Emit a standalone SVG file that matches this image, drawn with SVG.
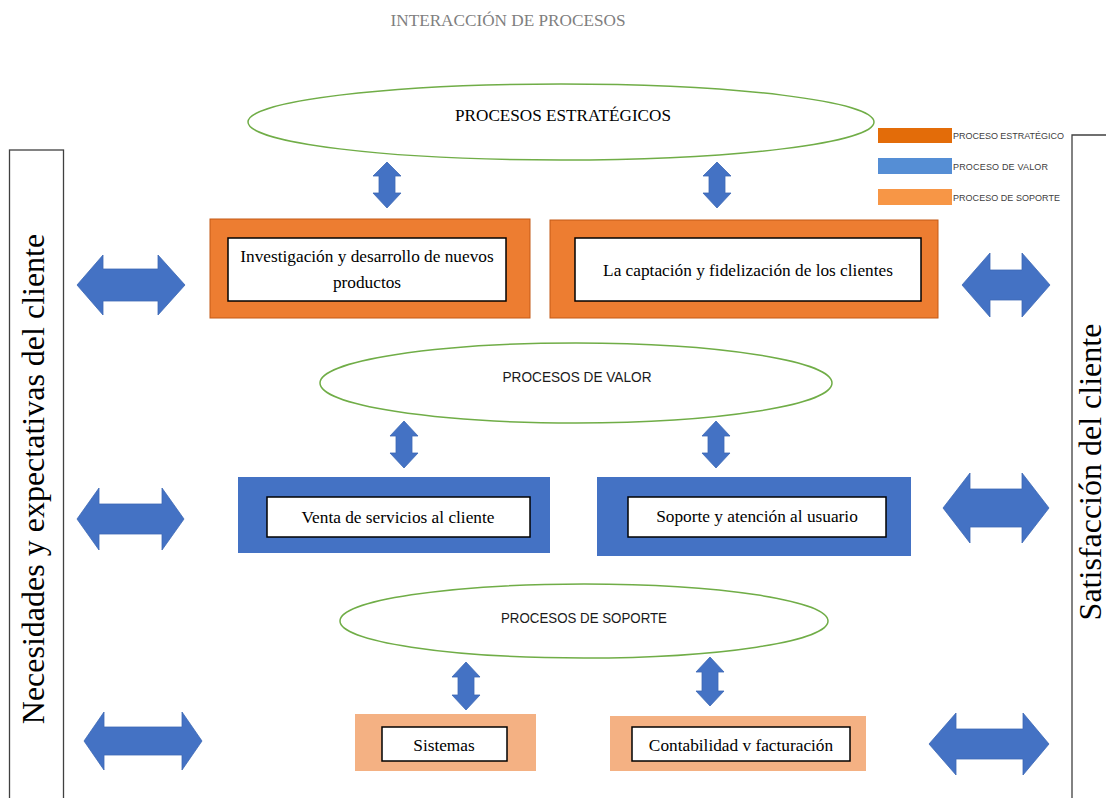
<svg xmlns="http://www.w3.org/2000/svg" width="1106" height="798" viewBox="0 0 1106 798">
<style>
.ell{fill:#fff;stroke:#70AD47;stroke-width:1.5}
.inner{fill:#fff;stroke:#000;stroke-width:1.5}
.est{fill:#ED7D31;stroke:#C45A16;stroke-width:1}
.val{fill:#4472C4}
.sop{fill:#F4B183}
.arr{fill:#4472C4;stroke:#3C68B5;stroke-width:0.8}
.serif{font-family:"Liberation Serif","Times New Roman",serif;fill:#000}
.sans{font-family:"Liberation Sans",Arial,sans-serif;fill:#1a1a1a}
.box{font-size:17.3px;text-anchor:middle}
.leg{font-size:9px;fill:#404040}
.side{font-size:32px;text-anchor:middle}
.panel{fill:none;stroke:#404040;stroke-width:1.3}
</style>
<rect width="1106" height="798" fill="#fff"/>
<text class="serif" x="508" y="26" font-size="16.5" text-anchor="middle" style="fill:#7f7f7f" textLength="235" lengthAdjust="spacingAndGlyphs">INTERACCIÓN DE PROCESOS</text>

<g id="panel-left">
<rect class="panel" x="9.5" y="150" width="54" height="660"/>
<text class="serif side" transform="translate(44,479) rotate(-90)">Necesidades y expectativas del cliente</text>
</g>
<g id="panel-right">
<path class="panel" d="M1120,135 H1072 V810"/>
<text class="serif side" transform="translate(1101,472) rotate(-90)">Satisfacción del cliente</text>
</g>

<g id="legend">
<rect x="878" y="128" width="74" height="15" fill="#E36C09"/>
<text class="sans leg" x="953" y="139" textLength="111">PROCESO ESTRATÉGICO</text>
<rect x="878" y="158" width="74" height="16" fill="#558ED5"/>
<text class="sans leg" x="953" y="169.5" textLength="95">PROCESO DE VALOR</text>
<rect x="878" y="189" width="74" height="16" fill="#F79646"/>
<text class="sans leg" x="953" y="201" textLength="107">PROCESO DE SOPORTE</text>
</g>

<g id="ell-estrategicos">
<ellipse class="ell" cx="561" cy="122" rx="313" ry="38"/>
<text class="serif" x="563" y="121" font-size="16.5" text-anchor="middle" textLength="216" lengthAdjust="spacingAndGlyphs">PROCESOS ESTRATÉGICOS</text>
</g>
<g id="ell-valor">
<ellipse class="ell" cx="576" cy="383" rx="256" ry="40"/>
<text class="sans" x="577" y="382" font-size="14.5" text-anchor="middle" textLength="149" lengthAdjust="spacingAndGlyphs">PROCESOS DE VALOR</text>
</g>
<g id="ell-soporte">
<ellipse class="ell" cx="584" cy="621" rx="244" ry="37"/>
<text class="sans" x="584" y="623" font-size="14.5" text-anchor="middle" textLength="166" lengthAdjust="spacingAndGlyphs">PROCESOS DE SOPORTE</text>
</g>

<g id="node-investigacion">
<rect class="est" x="210" y="219" width="320" height="99"/>
<rect class="inner" x="228" y="238" width="278" height="63"/>
<text class="serif box" x="367" y="262">Investigación y desarrollo de nuevos</text>
<text class="serif box" x="367" y="288">productos</text>
</g>
<g id="node-captacion">
<rect class="est" x="550" y="220" width="388" height="98"/>
<rect class="inner" x="575" y="238" width="346" height="63"/>
<text class="serif box" x="748" y="276">La captación y fidelización de los clientes</text>
</g>
<g id="node-venta">
<rect class="val" x="238" y="477" width="312" height="76"/>
<rect class="inner" x="267" y="497" width="263" height="40"/>
<text class="serif box" x="398" y="523">Venta de servicios al cliente</text>
</g>
<g id="node-soporte-usuario">
<rect class="val" x="597" y="477" width="314" height="79"/>
<rect class="inner" x="628" y="497" width="258" height="40"/>
<text class="serif box" x="757" y="522">Soporte y atención al usuario</text>
</g>
<g id="node-sistemas">
<rect class="sop" x="355" y="714" width="181" height="57"/>
<rect class="inner" x="382" y="727" width="125" height="34"/>
<text class="serif box" x="444" y="751">Sistemas</text>
</g>
<g id="node-contabilidad">
<rect class="sop" x="610" y="716" width="256" height="55"/>
<rect class="inner" x="632" y="727" width="218" height="34"/>
<text class="serif box" x="741" y="751">Contabilidad v facturación</text>
</g>

<g id="connectors">
<path class="arr" d="M387,162 L401,176 L395,176 L395,193 L401,193 L387,208 L373,193 L379,193 L379,176 L373,176 Z"/>
<path class="arr" d="M717,162 L731,176 L725,176 L725,193 L731,193 L717,208 L703,193 L709,193 L709,176 L703,176 Z"/>
<path class="arr" d="M404,421 L418,436 L412,436 L412,453 L418,453 L404,468 L390,453 L396,453 L396,436 L390,436 Z"/>
<path class="arr" d="M716,421 L730,436 L724,436 L724,453 L730,453 L716,468 L702,453 L708,453 L708,436 L702,436 Z"/>
<path class="arr" d="M466,662 L480,677 L474,677 L474,695 L480,695 L466,710 L452,695 L458,695 L458,677 L452,677 Z"/>
<path class="arr" d="M710,657 L724,672 L718,672 L718,691 L724,691 L710,706 L696,691 L702,691 L702,672 L696,672 Z"/>

<path class="arr" d="M77,285 L103,255 L103,269 L158,269 L158,255 L185,285 L158,315 L158,301 L103,301 L103,315 Z"/>
<path class="arr" d="M962,285 L990,253 L990,270 L1022,270 L1022,253 L1050,285 L1022,317 L1022,300 L990,300 L990,317 Z"/>
<path class="arr" d="M77,519 L99,488 L99,504 L162,504 L162,488 L184,519 L162,550 L162,534 L99,534 L99,550 Z"/>
<path class="arr" d="M943,508 L970,473 L970,489 L1022,489 L1022,473 L1049,508 L1022,543 L1022,527 L970,527 L970,543 Z"/>
<path class="arr" d="M84,741 L104,712 L104,727 L182,727 L182,712 L202,741 L182,770 L182,755 L104,755 L104,770 Z"/>
<path class="arr" d="M929,744 L956,713 L956,729 L1023,729 L1023,713 L1049,744 L1023,775 L1023,759 L956,759 L956,775 Z"/>
</g>
</svg>
